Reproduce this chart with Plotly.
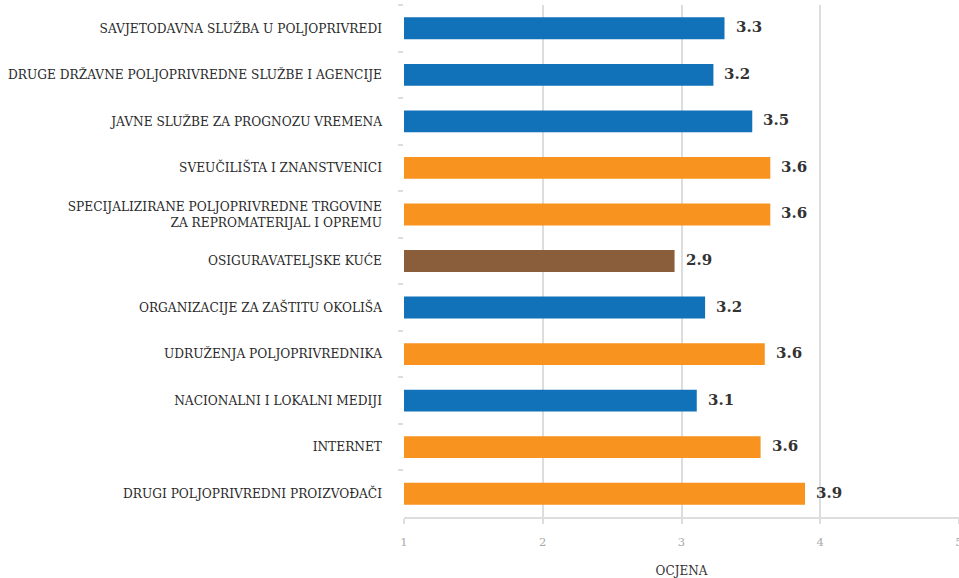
import plotly.graph_objects as go

categories = [
    "SAVJETODAVNA SLUŽBA U POLJOPRIVREDI",
    "DRUGE DRŽAVNE POLJOPRIVREDNE SLUŽBE I AGENCIJE",
    "JAVNE SLUŽBE ZA PROGNOZU VREMENA",
    "SVEUČILIŠTA I ZNANSTVENICI",
    "SPECIJALIZIRANE POLJOPRIVREDNE TRGOVINE<br>ZA REPROMATERIJAL I OPREMU",
    "OSIGURAVATELJSKE KUĆE",
    "ORGANIZACIJE ZA ZAŠTITU OKOLIŠA",
    "UDRUŽENJA POLJOPRIVREDNIKA",
    "NACIONALNI I LOKALNI MEDIJI",
    "INTERNET",
    "DRUGI POLJOPRIVREDNI PROIZVOĐAČI",
]
values = [3.31, 3.23, 3.51, 3.64, 3.64, 2.95, 3.17, 3.60, 3.11, 3.57, 3.89]
labels = ["3.3", "3.2", "3.5", "3.6", "3.6", "2.9", "3.2", "3.6", "3.1", "3.6", "3.9"]
groups = ["b", "b", "b", "o", "o", "r", "b", "o", "b", "o", "o"]
palette = {"b": "#1172BA", "o": "#F7931E", "r": "#8A5D3B"}
x_ticks = [1, 2, 3, 4, 5]

FONT = "DejaVu Serif"

fig = go.Figure()
fig.add_trace(go.Bar(
    x=[v - 1 for v in values],
    base=1,
    y=categories,
    orientation="h",
    marker=dict(color=[palette[g] for g in groups], line=dict(width=0)),
    width=0.47,
    hoverinfo="skip",
))

for c, v, t in zip(categories, values, labels):
    fig.add_annotation(
        x=v, y=c, text=f"<b>{t}</b>", showarrow=False,
        xanchor="left", xshift=9, yshift=1,
        font=dict(family=FONT, size=15, color="#333333"),
    )

fig.update_layout(
    width=959, height=578,
    margin=dict(l=404, r=0, t=5, b=61),
    paper_bgcolor="white", plot_bgcolor="white",
    showlegend=False,
    font=dict(family=FONT),
    xaxis=dict(
        range=[1, 5], tickvals=x_ticks, ticktext=[str(t) for t in x_ticks],
        automargin=False,
        showgrid=True, gridcolor="#dddddd", gridwidth=1.5,
        zeroline=False, showline=True, linecolor="#dddddd", linewidth=1.5,
        ticks="outside", ticklen=5, tickcolor="#dddddd", tickwidth=1.5,
        ticklabelstandoff=8, ticklabeloverflow="allow",
        tickfont=dict(family=FONT, size=11.5, color="#aaaaaa"),
        title=dict(text="OCJENA", font=dict(family=FONT, size=12, color="#333333"), standoff=20),
    ),
    yaxis=dict(
        categoryorder="array", categoryarray=categories, autorange="reversed",
        automargin=False,
        showgrid=False, zeroline=False, showline=False,
        ticks="outside", ticklen=5, tickcolor="#dddddd", tickwidth=1.5,
        tickson="boundaries", ticklabelstandoff=21,
        tickfont=dict(family=FONT, size=12.2, color="#2a2a2a"),
    ),
)

fig.write_html("out.html", config={"displayModeBar": False},
               post_script="document.body.style.margin='0px';")
